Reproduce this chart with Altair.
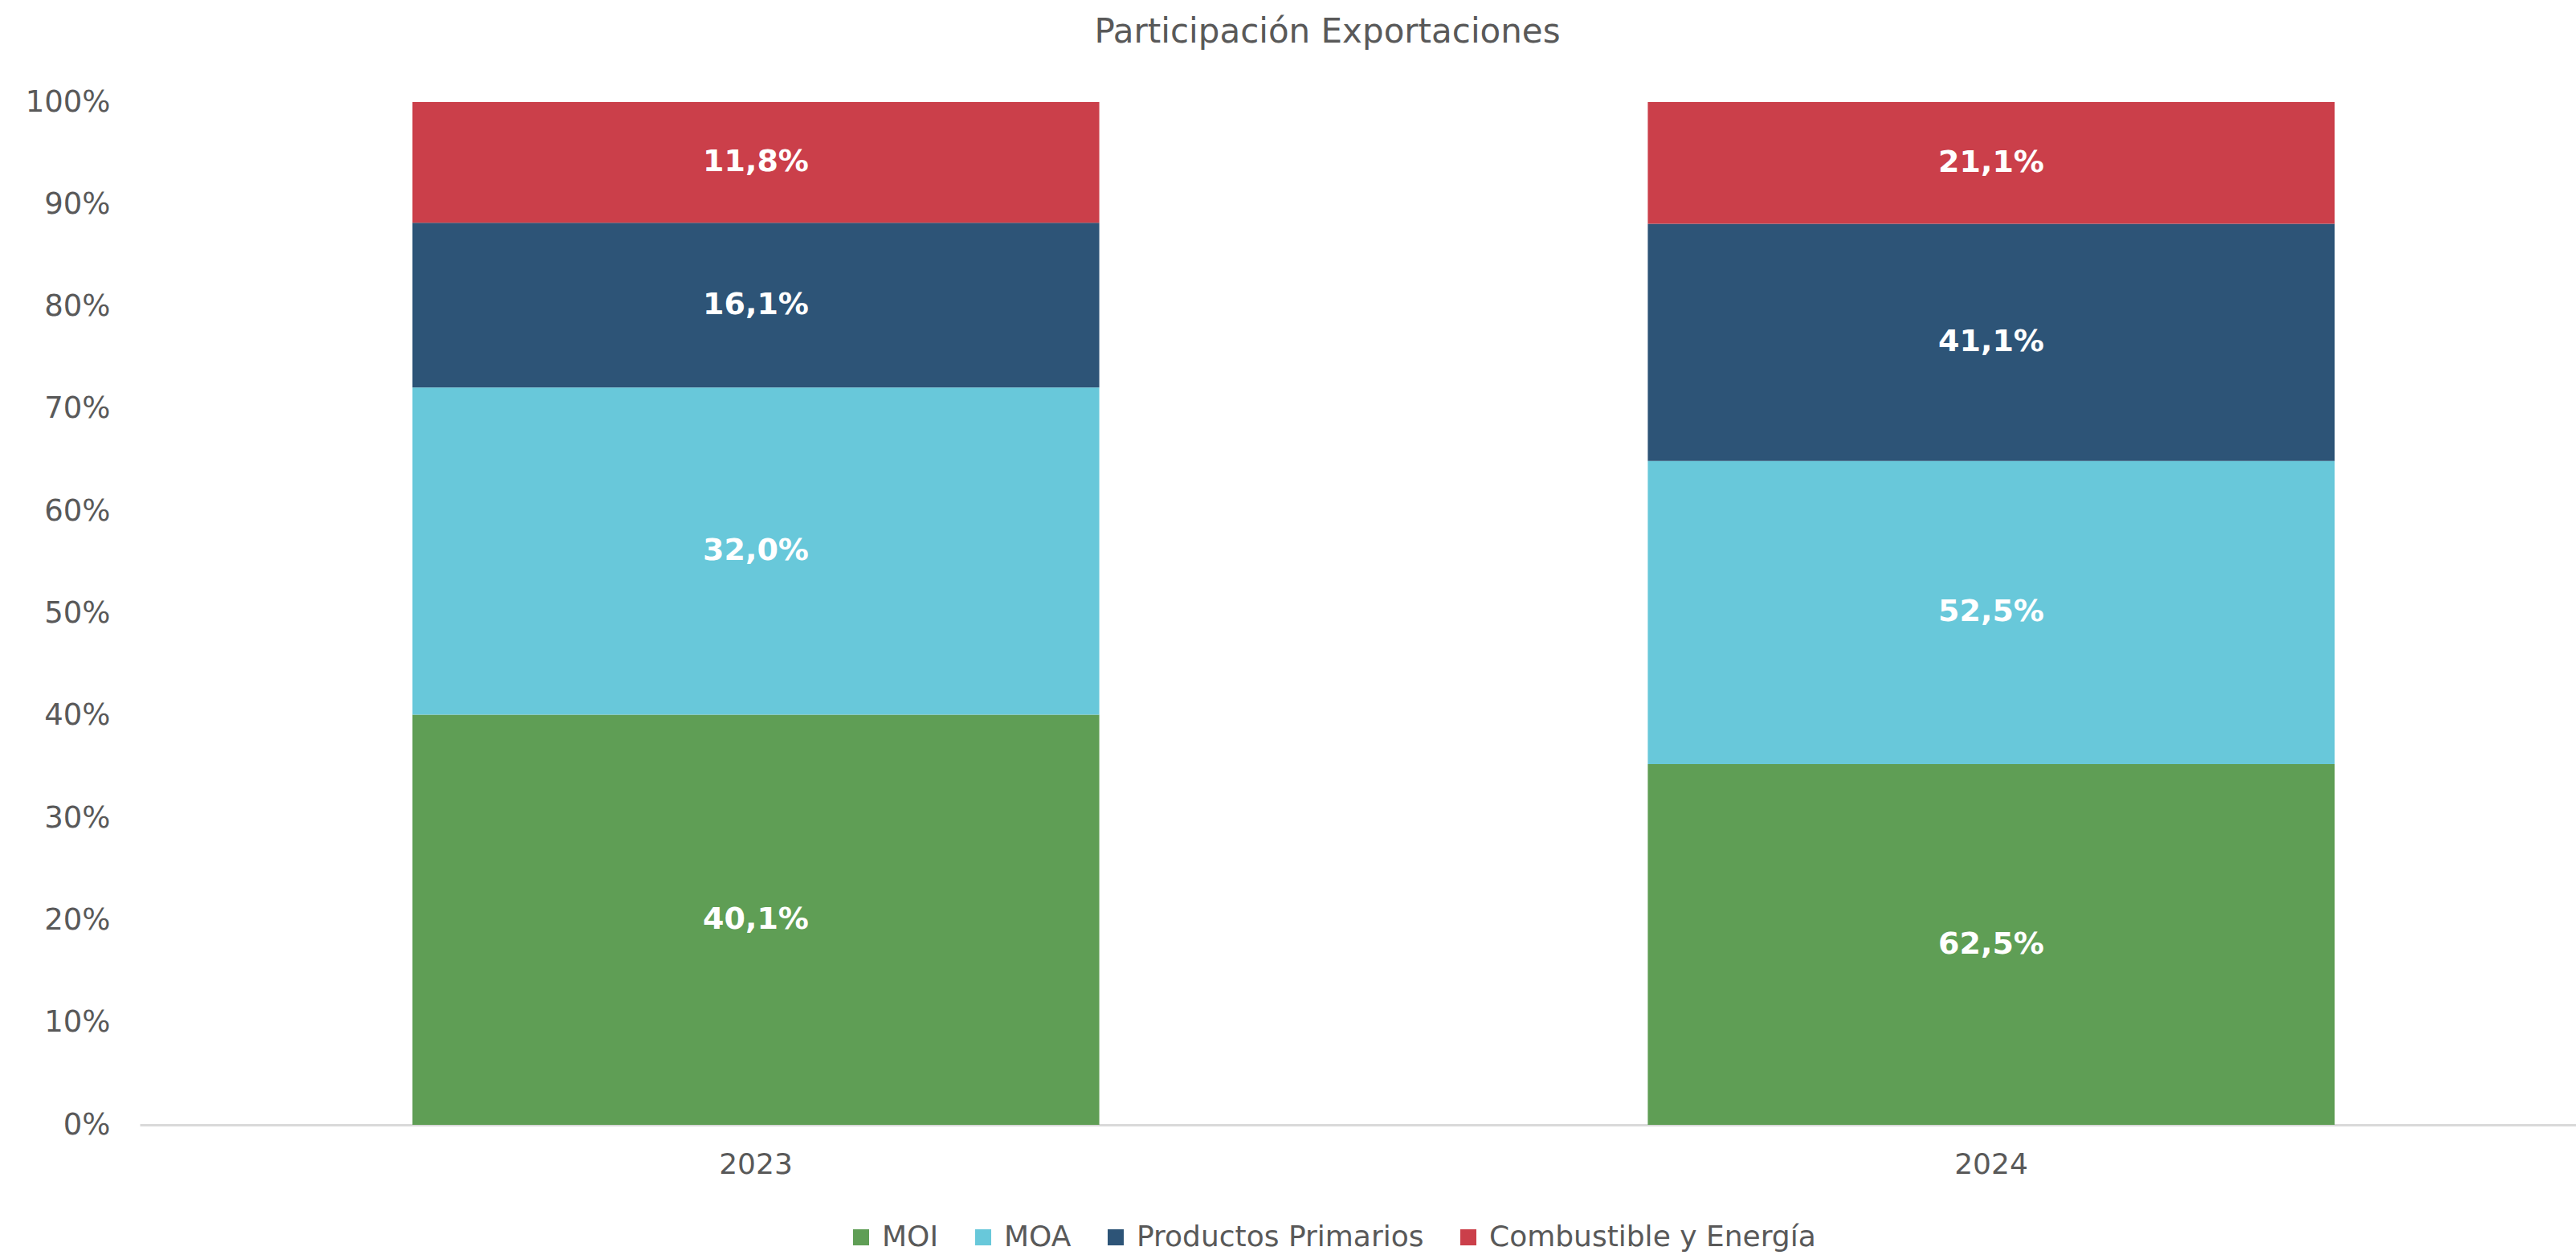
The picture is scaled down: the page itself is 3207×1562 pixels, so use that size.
import altair as alt
import pandas as pd

years = ["2023", "2024"]
categories = ["MOI", "MOA", "Productos Primarios", "Combustible y Energía"]
colors = ["#5F9E55", "#68C8DA", "#2D5477", "#CB3F4A"]
values_2023 = [40.1, 32.0, 16.1, 11.8]
values_2024 = [62.5, 52.5, 41.1, 21.1]

rows = []
for yr, vals in zip(years, [values_2023, values_2024]):
    for i, (cat, v) in enumerate(zip(categories, vals)):
        rows.append({"year": yr, "cat": cat, "order": i, "value": v,
                     "label": f"{v:.1f}".replace(".", ",") + "%"})
df = pd.DataFrame(rows)

FONT = "DejaVu Sans"
GRAY = "#595959"

x_enc = alt.X("year:N", title=None, sort=years,
              scale=alt.Scale(paddingInner=0.444, paddingOuter=0.2207, range=[0, 3072]),
              axis=alt.Axis(labelAngle=0, ticks=False, labelFontSize=36, grid=False,
                            labelColor=GRAY, labelFont=FONT, labelPadding=32,
                            domainColor="#D9D9D9", domainWidth=3))

base = alt.Chart(df)

bars = base.mark_bar().encode(
    x=x_enc,
    y=alt.Y("value:Q", stack="normalize", title=None,
            scale=alt.Scale(domain=[0, 1]),
            axis=alt.Axis(format=".0%", values=[i / 10 for i in range(11)],
                          ticks=False, domain=False, grid=False,
                          labelFontSize=37, labelColor=GRAY, labelFont=FONT,
                          labelPadding=37)),
    color=alt.Color("cat:N", sort=categories, title=None,
                    scale=alt.Scale(domain=categories, range=colors),
                    legend=alt.Legend(orient="none", direction="horizontal",
                                      legendX=880, legendY=1395,
                                      symbolType="square", symbolSize=400,
                                      symbolStrokeWidth=0, symbolOpacity=1,
                                      labelFontSize=36, labelColor=GRAY,
                                      labelFont=FONT, labelOffset=8,
                                      labelLimit=0, columnPadding=37)),
    order=alt.Order("order:Q", sort="ascending"),
)

texts = base.transform_stack(
    stack="value", groupby=["year"], sort=[alt.SortField("order", order="ascending")],
    as_=["y0", "y1"], offset="normalize"
).transform_calculate(
    mid="(datum.y0 + datum.y1) / 2"
).mark_text(font=FONT, fontSize=38, fontWeight="bold", color="white",
            baseline="middle", align="center").encode(
    x=alt.X("year:N", sort=years),
    y=alt.Y("mid:Q"),
    text="label:N",
)

chart = (bars + texts).properties(
    width=3033, height=1273,
    background="white",
    autosize=alt.AutoSizeParams(type="none"),
    padding={"left": 174, "top": 127, "right": 0, "bottom": 162},
    title=alt.TitleParams("Participación Exportaciones", fontSize=42, font=FONT,
                          color=GRAY, fontWeight="normal", anchor="middle",
                          baseline="alphabetic", offset=13, dx=-38),
).configure_view(stroke=None, strokeWidth=0).configure_axis(grid=False)

chart.save("out.html", embed_options={"renderer": "svg", "actions": False})
